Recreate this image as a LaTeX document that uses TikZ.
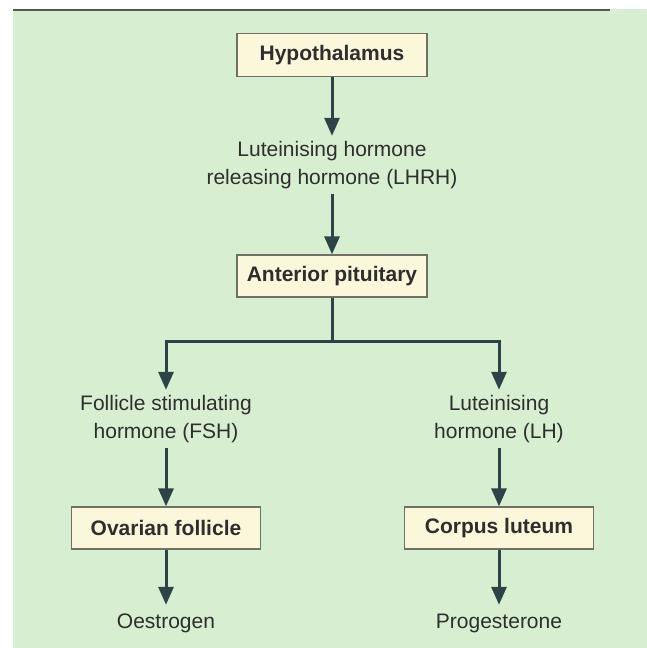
\documentclass[tikz,border=0pt]{standalone}
\usepackage{fontspec}
\setmainfont{Liberation Sans}
\usetikzlibrary{arrows.meta}
\definecolor{bg}{HTML}{D7EFD0}
\definecolor{txt}{HTML}{2E2E2E}
\definecolor{arrowc}{HTML}{2C4448}
\definecolor{boxfill}{HTML}{FAF7DA}
\definecolor{boxline}{HTML}{707066}
\definecolor{topline}{HTML}{4E5B4E}
\begin{document}
\begin{tikzpicture}[x=1pt,y=-1pt,
  box/.style={draw=boxline, line width=1.3pt, fill=boxfill, minimum width=190pt, minimum height=43pt,
    font=\fontsize{21}{27.5}\selectfont\bfseries, text=txt, inner sep=0pt},
  lbl/.style={font=\fontsize{21}{27.5}\selectfont, text=txt, align=center, inner sep=0pt},
  link/.style={draw=arrowc, line width=3pt},
  arr/.style={link, -{Triangle[length=18pt,width=15pt]}}]
\path[use as bounding box] (0,0) rectangle (647,648);
\fill[white] (0,0) rectangle (647,648);
\fill[bg] (13,9) rectangle (647,648);
\draw[topline, line width=1.5pt] (13,9.75) -- (610,9.75);

\node[box] (hyp) at (332,55) {Hypothalamus};
\node[lbl, minimum height=58pt] (lhrh) at (332,165) {Luteinising hormone\\releasing hormone (LHRH)};
\node[box, minimum height=42pt] (ant) at (332,276) {Anterior pituitary};
\coordinate (split) at (332,341);
\node[lbl, minimum height=58pt] (fsh) at (166,419) {Follicle stimulating\\hormone (FSH)};
\node[lbl, minimum height=58pt] (lh) at (499,419) {Luteinising\\hormone (LH)};
\node[box, minimum width=189pt, minimum height=42pt] (ov) at (166,528) {Ovarian follicle};
\node[box, minimum width=189pt, minimum height=42pt] (cl) at (499,528) {Corpus luteum};
\node[lbl, minimum height=36pt] (oes) at (166,623) {Oestrogen};
\node[lbl, minimum height=36pt] (prog) at (499,623) {Progesterone};

\draw[arr] (hyp.south) -- (lhrh.north);
\draw[arr] (lhrh.south) -- (ant.north);
\draw[link] (ant.south) -- (split);
\draw[arr] (split) -| (fsh.north);
\draw[arr] (split) -| (lh.north);
\draw[arr] (fsh.south) -- (ov.north);
\draw[arr] (lh.south) -- (cl.north);
\draw[arr] (ov.south) -- (oes.north);
\draw[arr] (cl.south) -- (prog.north);
\end{tikzpicture}
\end{document}
